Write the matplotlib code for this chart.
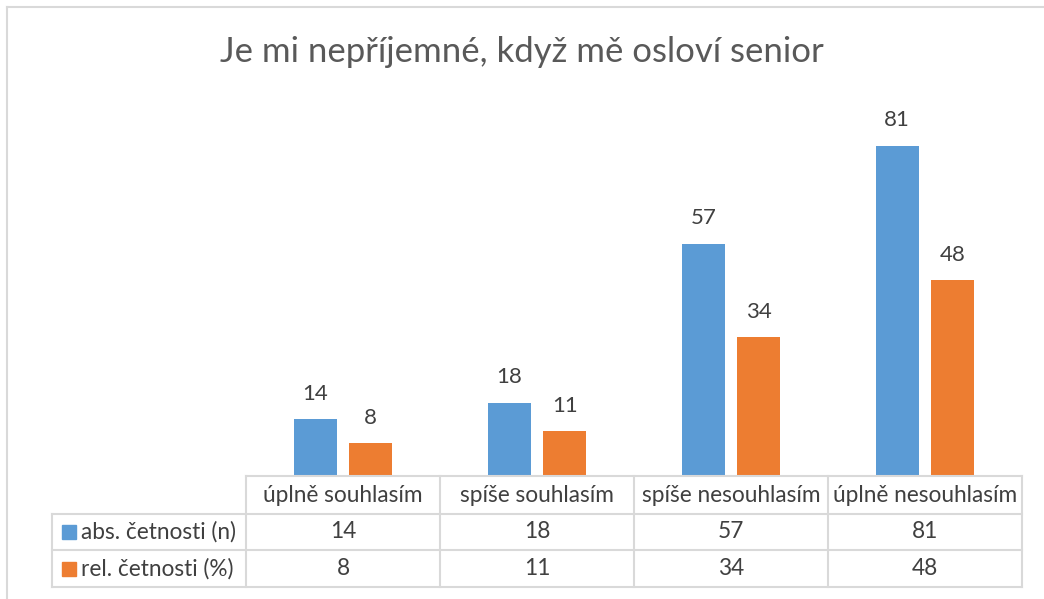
import matplotlib.pyplot as plt
from matplotlib.patches import Rectangle
from matplotlib.lines import Line2D
import numpy as np

plt.rcParams['font.family'] = ['Lato', 'DejaVu Sans']

title = "Je mi nepříjemné, když mě osloví senior"
categories = ["úplně souhlasím", "spíše souhlasím", "spíše nesouhlasím", "úplně nesouhlasím"]
series_names = ["abs. četnosti (n)", "rel. četnosti (%)"]
abs_counts = [14, 18, 57, 81]
rel_counts = [8, 11, 34, 48]

blue = "#5B9BD5"
orange = "#ED7D31"
grid_col = "#D9D9D9"
text_col = "#404040"

W, H = 1044, 599
fig = plt.figure(figsize=(W / 100, H / 100), dpi=100)

def fx(px):
    return px / W

def fy(py):
    return 1 - py / H

# outer chart border (top and left visible)
fig.add_artist(Line2D([fx(7), fx(7)], [fy(7), 0], color=grid_col, lw=1.5))
fig.add_artist(Line2D([fx(7), 1], [fy(7), fy(7)], color=grid_col, lw=1.5))

fig.text(0.5, fy(52), title, ha='center', va='center', fontsize=25, color="#595959")

# plot area
x0, x1 = 246, 1022
base, top = 476, 109
ax = fig.add_axes([fx(x0), fy(base), fx(x1) - fx(x0), fy(top) - fy(base)])
ax.set_xlim(-0.5, len(categories) - 0.5)
ax.set_ylim(0, 90)
ax.axis('off')

x = np.arange(len(categories))
w = 0.222
off = 0.143
b1 = ax.bar(x - off, abs_counts, w, color=blue)
b2 = ax.bar(x + off, rel_counts, w, color=orange)
for bars, vals in ((b1, abs_counts), (b2, rel_counts)):
    for r, v in zip(bars, vals):
        ax.annotate(str(v), (r.get_x() + r.get_width() / 2, r.get_height()),
                    xytext=(0, 11), textcoords='offset points',
                    ha='center', va='bottom', fontsize=16, color=text_col)

# data table
tab = fig.add_axes([0, 0, 1, 1])
tab.set_xlim(0, W)
tab.set_ylim(H, 0)
tab.axis('off')

col_w = (x1 - x0) / len(categories)
rows = [476, 514, 550, 587]
lx = 52
lc = dict(color=grid_col, lw=1.5)
tab.plot([x0, x1], [rows[0], rows[0]], **lc)
for yy in rows[1:]:
    tab.plot([lx, x1], [yy, yy], **lc)
tab.plot([lx, lx], [rows[1], rows[3]], **lc)
for i in range(len(categories) + 1):
    xx = x0 + i * col_w
    tab.plot([xx, xx], [rows[0], rows[3]], **lc)

fs = 16.3
for i, c in enumerate(categories):
    cx = x0 + (i + 0.5) * col_w
    tab.text(cx, (rows[0] + rows[1]) / 2, c, ha='center', va='center', fontsize=fs, color=text_col)
    tab.text(cx, (rows[1] + rows[2]) / 2, str(abs_counts[i]), ha='center', va='center', fontsize=fs, color=text_col)
    tab.text(cx, (rows[2] + rows[3]) / 2, str(rel_counts[i]), ha='center', va='center', fontsize=fs, color=text_col)

for j, (name, col) in enumerate(zip(series_names, [blue, orange])):
    cy = (rows[j + 1] + rows[j + 2]) / 2
    tab.add_patch(Rectangle((62, cy - 7), 14, 14, color=col))
    tab.text(81, cy, name, ha='left', va='center', fontsize=fs, color=text_col)

fig.savefig("out.png", dpi=100)
